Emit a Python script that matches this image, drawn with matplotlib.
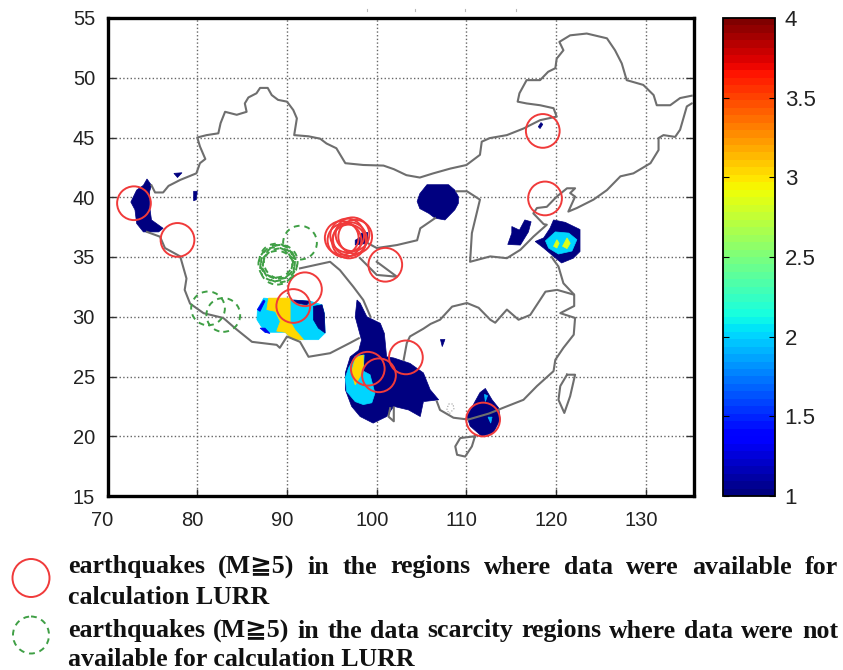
import matplotlib
matplotlib.use("Agg")
import matplotlib.pyplot as plt
from matplotlib.cm import ScalarMappable
from matplotlib.colors import Normalize
from matplotlib.patches import Ellipse
from matplotlib.transforms import ScaledTranslation

W, H = 843, 670

# map outlines, (lon, lat)
border_north = [(74.9,41.0),(75.3,40.4),(76.2,40.4),(76.8,40.95),(78.1,41.45),(79.9,42.0),(80.3,42.85),(80.9,43.2),(80.3,44.25),(80.0,45.0),
    (81.05,45.2),(82.35,45.35),(82.6,46.2),(83.1,47.15),(84.4,46.9),(85.5,47.15),(85.3,47.85),(85.7,48.35),(86.6,48.7),(87.0,49.15),
    (87.85,49.15),(88.3,48.55),(89.0,48.15),(90.0,48.0),(90.7,47.3),(91.1,46.6),(90.8,45.2),(92.4,45.1),(93.7,44.9),(94.4,44.5),
    (95.5,44.1),(96.5,42.85),(98.5,42.7),(100.75,42.65),(101.9,42.35),(103.3,41.85),(104.8,41.65),(106.3,42.0),(108.2,42.4),(110.0,42.7),
    (111.5,43.55),(111.7,44.65),(112.6,44.95),(114.5,45.2),(116.35,45.75),(118.2,46.45),(120.05,46.75),(119.7,47.45),(118.2,47.7),(116.7,47.85),
    (115.7,48.0),(115.9,48.7),(116.7,49.8),(118.2,49.8),(119.1,50.5),(119.9,50.8),(120.05,51.6),(120.8,52.3),(120.35,53.0),(121.55,53.55),
    (123.4,53.7),(125.65,53.3),(126.55,52.3),(127.3,51.2),(127.85,49.8),(129.7,49.4),(130.85,48.55),(131.2,47.7),(132.7,47.7),(133.8,48.3),(135.1,48.5)]
border_east = [(135.1,47.85),(134.55,47.6),(133.8,45.65),(133.25,45.05),(131.95,45.2),(131.4,44.95),(131.4,43.95),(130.5,42.85),(128.6,42.0),(127.15,41.75),
    (125.65,40.6),(124.15,39.8),(122.3,39.1),(121.35,38.8),(122.1,40.05),(121.55,40.35),(122.1,40.75),(121.2,40.75),(120.05,40.05),(118.95,39.2),
    (117.85,39.1),(117.45,38.65),(118.6,37.75),(118.95,37.7),(117.45,36.7),(116.0,35.6),(114.5,34.9),(112.65,35.05),(110.4,34.6),(110.6,37.0),
    (111.5,39.8),(110.05,40.5),(108.9,40.5)]
yellow_river = [(106.5,38.25),(104.85,37.4),(104.5,36.4),(102.25,36.0),(100.0,35.75),(98.9,36.2)]
inner_west = [(91.45,34.05),(94.8,34.6),(95.9,33.9),(97.4,32.5),(98.5,31.4),(99.3,30.0)]
inner_qinghai = [(98.15,34.9),(100.0,33.5),(102.25,33.35),(100.0,34.6)]
border_south = [(74.4,37.1),(75.85,36.7),(76.4,35.75),(78.1,35.05),(78.8,33.2),(78.6,32.25),(79.2,31.1),(80.7,30.3),(82.9,29.9),(84.2,29.05),
    (86.1,27.9),(88.85,27.65),(89.2,27.4),(90.0,28.35),(91.45,27.9),(92.4,26.65),(94.8,26.95),(97.0,27.8),(98.0,28.2)]
coast_south = [(106.7,22.9),(107.05,22.2),(108.55,21.55),(110.2,21.4),(112.5,21.9),(114.15,22.4),(116.35,23.05),(117.85,24.2),(119.7,25.45),(119.9,26.4),
    (120.8,27.4),(121.95,28.5),(122.1,29.9),(120.45,30.3),(122.0,30.9),(122.0,31.85),(120.8,32.8),(120.25,34.2),(119.7,34.77),(119.5,35.0)]
yangtze = [(103.0,26.4),(103.35,27.8),(103.7,28.35),(105.2,29.0),(106.0,29.4),(107.05,29.75),(108.4,30.85),(110.05,31.15),(111.35,30.75),(112.65,29.75),
    (113.2,29.5),(114.5,30.6),(115.8,29.75),(117.1,30.15),(118.8,32.1),(120.1,32.25),(121.95,31.85)]
red_river = [(101.5,22.35),(101.3,21.65),(101.9,21.25),(101.9,22.4)]
taiwan = [(121.2,25.15),(122.1,25.15),(121.55,23.35),(120.9,21.95),(120.25,23.05),(120.45,24.2),(121.2,25.15)]
hainan = [(110.95,20.0),(110.6,19.15),(109.85,18.3),(108.95,18.45),(108.75,19.15),(109.3,19.85),(110.95,20.0)]
lake = [(108.0,22.7),(108.5,22.7),(108.6,22.3),(108.1,21.9),(107.8,22.2),(108.0,22.7)]
outlines = [border_north, border_east, yellow_river, inner_west, inner_qinghai, border_south, coast_south, yangtze, red_river, taiwan, hainan]

# LURR patches, value in patch_values below
kashgar = [(74.4,41.53),(74.9,41.0),(74.7,40.5),(74.7,39.2),(74.9,38.1),(76.2,37.4),(75.7,37.1),(74.0,37.1),(73.25,37.8),(73.06,38.95),(72.6,39.6),(73.25,40.6),(74.0,41.0)]
speck_a = [(77.4,42.0),(78.3,42.05),(77.8,41.65)]
speck_b = [(79.6,40.5),(80.0,40.5),(79.9,39.8),(79.6,39.7)]
speck_c = [(97.6,36.4),(98.15,36.65),(98.3,37.0),(99.0,37.05),(99.0,36.15),(97.6,36.0)]
speck_d = [(118.0,45.9),(118.3,46.25),(118.5,46.1),(118.2,45.75)]
speck_e = [(107.1,28.1),(107.6,28.1),(107.3,27.5)]
ordos = [(105.6,41.05),(108.0,41.05),(108.7,40.6),(109.1,40.05),(109.1,39.5),(108.7,38.95),(107.6,38.1),(106.5,38.25),(105.8,38.65),(104.8,39.05),(104.5,39.65),(104.8,40.3)]
hebei = [(115.05,37.55),(115.9,37.25),(116.5,38.1),(117.2,37.95),(116.9,37.1),(116.0,36.0),(114.6,36.05),(115.05,37.0)]
shandong = [(119.7,38.1),(121.0,37.9),(122.65,37.3),(122.65,35.46),(121.9,34.9),(120.6,34.5),(119.7,35.05),(118.6,35.75),(117.65,36.3),(118.6,36.6),(119.3,37.4)]
shandong_mid = [(118.8,36.35),(119.9,37.1),(121.4,37.0),(122.3,36.45),(121.75,35.5),(120.25,35.25),(119.15,35.75)]
shandong_hot_a = [(119.7,35.9),(120.07,36.45),(120.33,36.15),(120.07,35.75)]
shandong_hot_b = [(120.7,35.9),(121.2,36.6),(121.56,36.15),(121.2,35.7)]
tibet = [(87.4,31.56),(92.6,31.3),(93.9,31.0),(94.15,30.3),(94.25,28.64),(93.5,28.08),(90.7,28.08),(89.8,28.7),(87.55,28.7),(86.65,29.75),(86.7,30.6)]
tibet_yellow = [(87.95,31.56),(90.35,31.56),(90.35,29.6),(90.9,28.9),(91.85,28.08),(90.7,28.08),(89.8,28.7),(88.85,28.8),(89.25,29.6),(88.7,30.45),(87.75,30.6)]
tibet_navy = [(92.95,30.87),(93.9,31.0),(94.15,30.3),(94.25,28.64),(93.5,29.05),(92.95,29.75)]
tibet_fringe = [(86.7,30.6),(87.4,31.4),(87.55,31.3),(87.0,30.45)]
tibet_fringe_low = [(87.0,29.05),(87.55,28.7),(88.1,28.6),(87.55,29.05)]
tibet_top = [(90.7,31.4),(92.6,31.3),(92.2,31.0),(91.1,31.15)]
yunnan = [(97.8,31.4),(98.15,31.15),(98.9,30.0),(100.4,29.45),(100.85,28.6),(101.1,26.65),(101.9,26.55),(103.7,26.1),(105.2,25.3),(105.95,23.9),(106.9,23.05),
    (105.2,22.9),(104.85,21.65),(103.55,22.2),(101.9,22.5),(101.1,21.65),(99.6,21.1),(98.15,21.65),(97.2,22.5),(96.5,23.9),(96.5,25.3),(97.05,26.65),(98.0,27.2),(98.3,28.05),(97.6,30.0)]
yunnan_cyan = [(96.85,25.7),(97.6,26.7),(98.6,26.8),(98.5,25.45),(99.25,25.15),(99.8,23.6),(99.45,22.8),(98.5,22.65),(97.6,22.9),(96.65,23.75),(96.5,24.9)]
yunnan_yellow = [(97.6,26.55),(98.5,26.8),(98.5,25.85),(98.15,25.0),(97.6,24.3),(97.2,25.3)]
guangdong = [(112.1,24.0),(112.85,23.05),(113.6,22.35),(113.75,21.4),(113.0,20.3),(111.7,20.0),(110.4,20.85),(110.05,21.65),(110.95,22.9),(111.5,23.65)]
guangdong_a = [(112.0,23.5),(112.35,23.4),(112.1,22.9)]
guangdong_b = [(112.4,21.6),(112.85,21.6),(112.7,21.1)]

patches = [kashgar, speck_a, speck_b, speck_c, speck_d, speck_e, ordos, hebei, shandong, shandong_mid, shandong_hot_a, shandong_hot_b,
    tibet, tibet_yellow, tibet_navy, tibet_fringe, tibet_fringe_low, tibet_top, yunnan, yunnan_cyan, yunnan_yellow, guangdong, guangdong_a, guangdong_b]
patch_values = [1, 1, 1, 1, 1, 1, 1, 1, 1, 2.0, 2.85, 2.85,
    2.0, 3.05, 1, 1.3, 1.3, 1, 1, 2.0, 3.05, 1, 1.9, 1.9]

red_lon = [72.95, 77.8, 96.1, 96.4, 96.7, 97.0, 97.3, 97.6, 96.9, 100.95, 118.5, 118.75, 92.0, 90.7, 99.0, 100.25, 103.25, 111.85]
red_lat = [39.5, 36.43, 36.6, 36.4, 36.8, 36.5, 36.9, 36.7, 36.3, 34.35, 45.55, 39.9, 32.3, 30.9, 25.65, 25.1, 26.6, 21.4]
green_lon = [88.7, 89.0, 89.2, 88.9, 89.3, 88.8, 91.45, 81.2, 82.9]
green_lat = [34.4, 34.6, 34.3, 34.1, 34.6, 34.7, 36.2, 30.7, 30.15]

x_ticks = [70, 80, 90, 100, 110, 120, 130]
y_ticks = [15, 20, 25, 30, 35, 40, 45, 50, 55]
cbar_ticks = [1, 1.5, 2, 2.5, 3, 3.5, 4]
cbar_labels = ["1", "1.5", "2", "2.5", "3", "3.5", "4"]

legend_lines = [
    ("earthquakes (M\u22675) in the regions where data were available for", 567, True),
    ("calculation LURR", 598, False),
    ("earthquakes (M\u22675) in the data scarcity regions where data were not", 631, True),
    ("available for calculation LURR", 660, False),
]
speck_x = [367, 415, 465, 516]


def box(x0, y0, x1, y1):
    return [x0/W, 1-y1/H, (x1-x0)/W, (y1-y0)/H]


plt.rcParams["font.family"] = ["Liberation Sans", "DejaVu Sans"]
fig = plt.figure(figsize=(W/100, H/100), dpi=100)
ax = fig.add_axes(box(107.5, 18, 694, 496))
cmap = plt.get_cmap("jet", 64)
norm = Normalize(1, 4)

for poly, val in zip(patches, patch_values):
    ax.fill([p[0] for p in poly], [p[1] for p in poly], color=cmap(norm(val)), lw=0.5, zorder=2)
for line in outlines:
    ax.plot([p[0] for p in line], [p[1] for p in line], color="#6e6e6e", lw=1.5, zorder=3)
ax.plot([p[0] for p in lake], [p[1] for p in lake], color="#999999", lw=0.8, ls=":", zorder=3)

ax.scatter(red_lon, red_lat, s=590, facecolors="none", edgecolors="#f03a3a", linewidths=1.4, zorder=4)
ax.scatter(green_lon, green_lat, s=590, facecolors="none", edgecolors="#3f9f45", linewidths=1.4, linestyles=(0, (3, 2.5)), zorder=4)

ax.set_xlim(70, 135.35)
ax.set_ylim(15, 55)
ax.set_xticks(x_ticks)
ax.set_yticks(y_ticks)
ax.grid(True, color="#666666", linestyle=":", linewidth=1.0, zorder=1)
ax.set_axisbelow(True)
ax.tick_params(axis="x", direction="in", length=5, width=1.0, labelsize=14.5, color="#333333", pad=11, top=False, labelcolor="#222222")
ax.tick_params(axis="y", direction="in", length=6, width=1.0, labelsize=14.5, color="#333333", pad=9, right=True, labelcolor="#222222")
shift = ScaledTranslation(-5/100, 0, fig.dpi_scale_trans)
for lab in ax.get_xticklabels():
    lab.set_transform(lab.get_transform() + shift)
for s in ax.spines.values():
    s.set_linewidth(2.4)

cax = fig.add_axes(box(723, 18, 775, 496))
cb = fig.colorbar(ScalarMappable(norm=norm, cmap=cmap), cax=cax)
cb.set_ticks(cbar_ticks)
cb.set_ticklabels(cbar_labels)
cb.ax.tick_params(direction="in", length=4, width=0.8, left=True, right=True, labelsize=16, pad=7, labelcolor="#222222")
cb.outline.set_linewidth(1.3)

# legend underneath, in pixel coordinates
over = fig.add_axes([0, 0, 1, 1], facecolor="none")
over.set_xlim(0, W)
over.set_ylim(H, 0)
over.axis("off")
over.add_patch(Ellipse((31, 578), 37, 38, fill=False, ec="#f03a3a", lw=1.4))
over.add_patch(Ellipse((31, 635), 36, 37, fill=False, ec="#3f9f45", lw=1.4, ls=(0, (3, 2.5))))
for sx in speck_x:
    over.plot([sx, sx], [9, 11], color="#bbbbbb", lw=0.8)

fam = ["Liberation Serif", "DejaVu Sans"]
rend = fig.canvas.get_renderer()
for txt, y, justify in legend_lines:
    if not justify:
        over.text(68, y, txt, family=fam, fontsize=18.6, fontweight="bold", va="center", color="#111111")
        continue
    words = txt.split(" ")
    items = [over.text(0, y, w, family=fam, fontsize=18.6, fontweight="bold", va="center", color="#111111") for w in words]
    widths = [t.get_window_extent(rend).width for t in items]
    gap = (838 - 68 - sum(widths)) / (len(words) - 1)
    x = 68
    for t, wd in zip(items, widths):
        t.set_x(x)
        x += wd + gap

fig.savefig("out.png", dpi=100)
